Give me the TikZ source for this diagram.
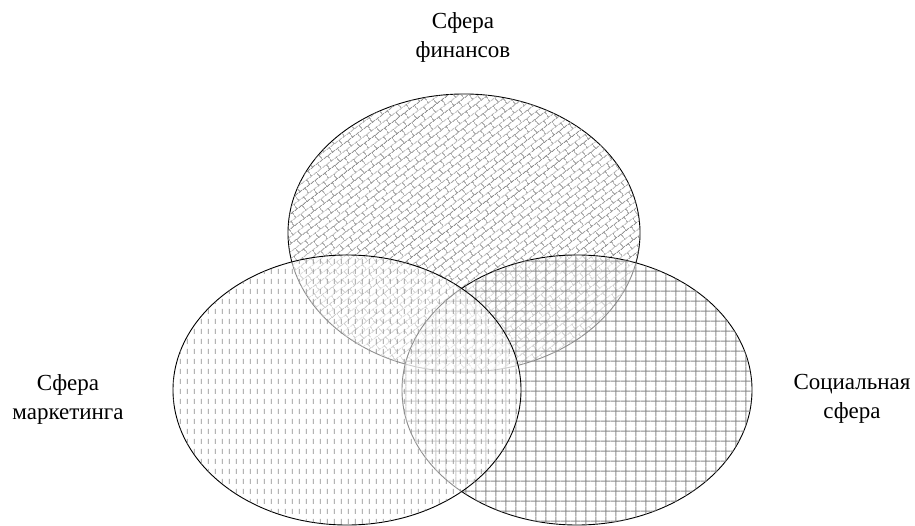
\documentclass[tikz,border=0pt]{standalone}
\usepackage{fontspec}
\setmainfont{Liberation Serif}
\newfontfamily\serifru{Liberation Serif}
\usetikzlibrary{shapes.geometric,patterns.meta}
\pgfdeclarepattern{
  name=vdashes, type=uncolored,
  bottom left={\pgfpoint{0pt}{0pt}}, top right={\pgfpoint{6.8pt}{10pt}},
  tile size={\pgfpoint{6.8pt}{10pt}},
  code={\pgfsetlinewidth{0.8pt}
    \pgfpathmoveto{\pgfpoint{3.4pt}{2.3pt}}\pgfpathlineto{\pgfpoint{3.4pt}{7.7pt}}
    \pgfusepath{stroke}}}
\pgfdeclarepattern{
  name=gridsq, type=uncolored,
  bottom left={\pgfpoint{0pt}{0pt}}, top right={\pgfpoint{10.3pt}{10.3pt}},
  tile size={\pgfpoint{10.3pt}{10.3pt}},
  code={\pgfsetlinewidth{0.9pt}
    \pgfpathmoveto{\pgfpoint{5.15pt}{0pt}}\pgfpathlineto{\pgfpoint{5.15pt}{10.3pt}}
    \pgfpathmoveto{\pgfpoint{0pt}{5.15pt}}\pgfpathlineto{\pgfpoint{10.3pt}{5.15pt}}
    \pgfusepath{stroke}}}
\pgfdeclarepattern{
  name=bricks, type=uncolored,
  bottom left={\pgfpoint{0pt}{0pt}}, top right={\pgfpoint{13pt}{12pt}},
  tile size={\pgfpoint{13pt}{12pt}},
  tile transformation={\pgftransformrotate{37}},
  code={\pgfsetlinewidth{0.7pt}
    \pgfpathmoveto{\pgfpoint{0pt}{3pt}}\pgfpathlineto{\pgfpoint{13pt}{3pt}}
    \pgfpathmoveto{\pgfpoint{0pt}{9pt}}\pgfpathlineto{\pgfpoint{13pt}{9pt}}
    \pgfpathmoveto{\pgfpoint{3.25pt}{3pt}}\pgfpathlineto{\pgfpoint{3.25pt}{9pt}}
    \pgfpathmoveto{\pgfpoint{9.75pt}{9pt}}\pgfpathlineto{\pgfpoint{9.75pt}{12pt}}
    \pgfpathmoveto{\pgfpoint{9.75pt}{0pt}}\pgfpathlineto{\pgfpoint{9.75pt}{3pt}}
    \pgfusepath{stroke}}}
\tikzset{
  sphere/.style={ellipse, draw=black, line width=0.9pt, inner sep=0pt,
    fill=white, fill opacity=0.55,
    postaction={fill opacity=1, pattern={#1}, pattern color=black!45}},
  lbl/.style={align=center, font=\serifru\fontsize{23}{29}\selectfont, text=black}
}
\begin{document}
\begin{tikzpicture}[x=1pt,y=1pt]
\useasboundingbox (0,0) rectangle (915,525);
\node[sphere=bricks, minimum width=352pt, minimum height=278pt] (fin) at (464,292) {};
\node[sphere=gridsq, minimum width=350pt, minimum height=270pt] (soc) at (577,135) {};
\node[sphere=vdashes, minimum width=348pt, minimum height=270pt] (mkt) at (347,135) {};
\node[lbl] (tfin) at (463,488) {Сфера\\финансов};
\node[lbl] (tmkt) at (68,126) {Сфера\\маркетинга};
\node[lbl] (tsoc) at (852,126) {Социальная\\сфера};
\end{tikzpicture}
\end{document}
